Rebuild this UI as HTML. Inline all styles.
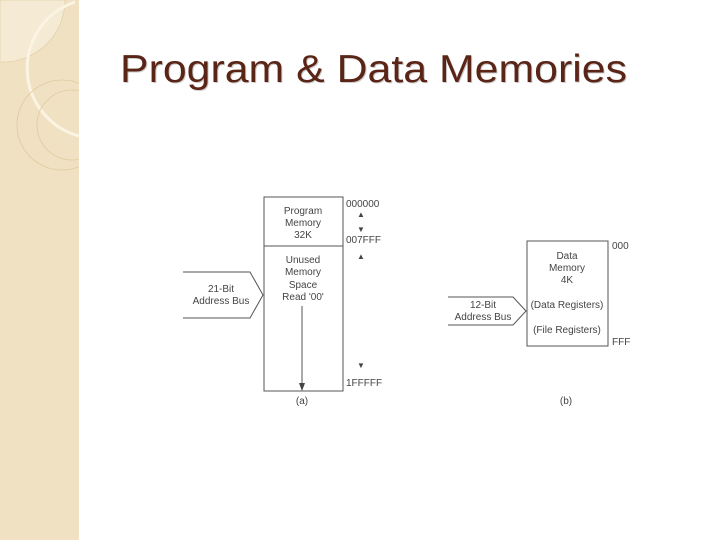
<!DOCTYPE html>
<html><head><style>body{margin:0;width:720px;height:540px;background:#fff;overflow:hidden}</style></head><body>
<svg width="720" height="540" xmlns="http://www.w3.org/2000/svg" font-family="Liberation Sans, sans-serif">
<rect x="0" y="0" width="79" height="540" fill="#f0e1c2"/>
<path d="M0 0 H65 A62 62 0 0 1 0 62 Z" fill="#f5ead4" stroke="#e2cfa6" stroke-width="0.7"/>
<path d="M75 2 A70 70 0 0 0 79 136" fill="none" stroke="#fbf4e2" stroke-width="3"/>
<circle cx="62" cy="125" r="45" fill="none" stroke="#e0cb9f" stroke-width="0.8"/>
<circle cx="72" cy="125" r="35" fill="none" stroke="#e0cb9f" stroke-width="0.8"/>
<rect x="79" y="0" width="641" height="540" fill="#fff"/>
<text x="121" y="83" font-size="39" fill="#ccc" textLength="507" lengthAdjust="spacingAndGlyphs">Program &amp; Data Memories</text>
<text x="120" y="82" font-size="39" fill="#5a2516" textLength="507" lengthAdjust="spacingAndGlyphs">Program &amp; Data Memories</text>
<g stroke="#555" fill="none" stroke-width="1">
<rect x="264" y="197" width="79" height="194"/>
<line x1="264" y1="246" x2="343" y2="246"/>
<path d="M183 272 H250 L263 295 L250 318 H183"/>
<line x1="302" y1="306" x2="302" y2="388"/>
<rect x="527" y="241" width="81" height="105"/>
<path d="M448 297 H513 L526 311 L513 325 H448"/>
</g>
<path d="M299 383 L305 383 L302 391 Z" fill="#444"/>
<g font-size="10" fill="#444" text-anchor="middle">
<text x="303" y="214">Program</text><text x="303" y="226">Memory</text><text x="303" y="238">32K</text>
<text x="303" y="263">Unused</text><text x="303" y="275">Memory</text><text x="303" y="288">Space</text><text x="303" y="300">Read '00'</text>
<text x="221" y="292">21-Bit</text><text x="221" y="304">Address Bus</text>
<text x="567" y="259">Data</text><text x="567" y="271">Memory</text><text x="567" y="283">4K</text>
<text x="567" y="308">(Data Registers)</text><text x="567" y="333">(File Registers)</text>
<text x="483" y="308">12-Bit</text><text x="483" y="320">Address Bus</text>
<text x="302" y="404">(a)</text><text x="566" y="404">(b)</text>
</g>
<g font-size="10" fill="#444">
<text x="346" y="207">000000</text><text x="346" y="243">007FFF</text><text x="346" y="386">1FFFFF</text>
<text x="612" y="249">000</text><text x="612" y="345">FFF</text>
</g>
<g fill="#444" font-size="8" text-anchor="middle">
<text x="361" y="217">▲</text><text x="361" y="232">▼</text><text x="361" y="259">▲</text><text x="361" y="368">▼</text>
</g>
</svg>
</body></html>
